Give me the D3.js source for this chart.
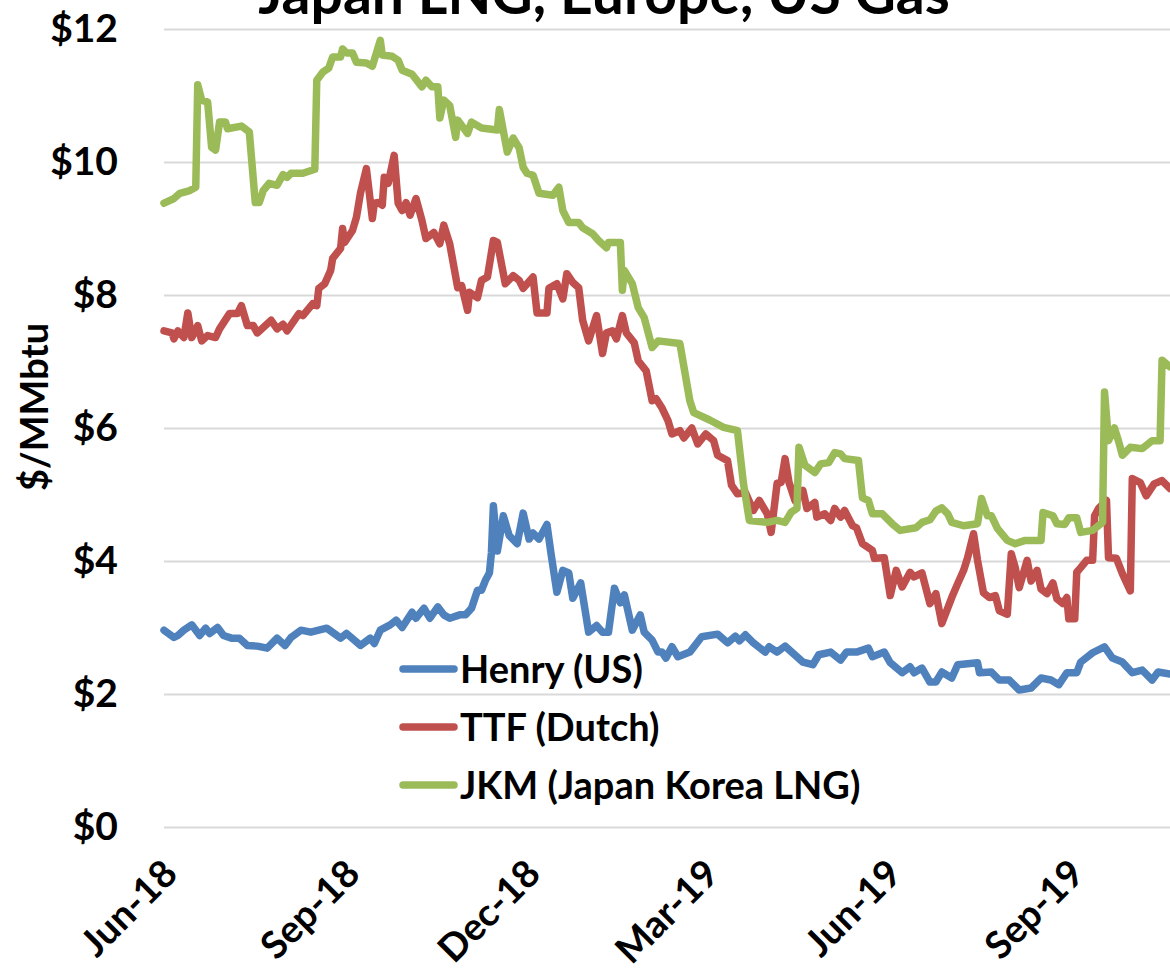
<!DOCTYPE html>
<html>
<head>
<meta charset="utf-8">
<script src="https://cdn.jsdelivr.net/npm/d3@7"></script>
<style>
body{margin:0;background:#fff;}
svg text{font-family:Lato,"Open Sans",sans-serif;font-weight:bold;fill:#000;}
</style>
</head>
<body>
<svg width="1170" height="970"></svg>
<script>
// daily prices, as [days after 1 Jun 2018, $/MMbtu]
const startDate = new Date(2018, 5, 1)
const endDate = new Date(2019, 9, 21)

const henry = [[0,2.96],[5,2.85],[7,2.88],[10,2.96],[14,3.04],[18,2.88],[21,2.99],[23,2.91],[27,3.0],[30,2.88],
  [34,2.84],[38,2.84],[42,2.73],[47,2.72],[52,2.69],[57,2.84],[61,2.73],[64,2.85],[69,2.96],[74,2.93],
  [82,2.99],[89,2.84],[92,2.91],[99,2.73],[104,2.84],[106,2.76],[109,2.96],[114,3.04],[117,3.11],[120,3.0],
  [125,3.23],[127,3.14],[131,3.29],[134,3.14],[138,3.31],[141,3.19],[144,3.14],[149,3.19],[152,3.19],[155,3.29],
  [158,3.56],[160,3.56],[162,3.71],[164,3.82],[165,4.12],[166,4.83],[168,4.15],[171,4.68],[174,4.38],[178,4.26],
  [181,4.72],[184,4.33],[186,4.42],[189,4.33],[193,4.55],[195,4.12],[198,3.53],[201,3.86],[204,3.82],[206,3.44],
  [210,3.67],[214,2.93],[218,3.03],[221,2.93],[224,2.93],[227,3.59],[230,3.37],[232,3.49],[236,2.96],[240,3.19],
  [242,2.93],[246,2.81],[249,2.63],[251,2.63],[253,2.54],[256,2.71],[259,2.56],[265,2.63],[271,2.86],[279,2.9],
  [284,2.77],[288,2.87],[290,2.8],[293,2.89],[297,2.77],[303,2.63],[305,2.71],[309,2.63],[313,2.72],[322,2.48],
  [327,2.44],[330,2.59],[336,2.63],[341,2.51],[344,2.63],[349,2.63],[355,2.69],[357,2.56],[363,2.63],[366,2.47],
  [372,2.32],[376,2.41],[378,2.32],[382,2.39],[386,2.18],[389,2.18],[392,2.33],[397,2.24],[400,2.44],[410,2.47],
  [411,2.32],[417,2.33],[421,2.21],[426,2.21],[431,2.06],[437,2.09],[442,2.24],[447,2.21],[451,2.14],[455,2.32],
  [460,2.32],[462,2.48],[468,2.62],[474,2.71],[478,2.54],[483,2.48],[488,2.32],[493,2.36],[498,2.21],[501,2.33],
  [507,2.3]]

const ttf = [[0,7.46],[4,7.43],[5,7.34],[7,7.46],[10,7.36],[12,7.73],[14,7.36],[17,7.54],[19,7.31],[22,7.39],
  [26,7.36],[28,7.49],[33,7.72],[37,7.72],[39,7.84],[42,7.54],[45,7.54],[47,7.43],[54,7.62],[57,7.49],
  [60,7.56],[62,7.46],[68,7.72],[70,7.69],[75,7.87],[77,7.84],[78,8.1],[81,8.17],[84,8.37],[85,8.55],
  [89,8.7],[90,9.0],[91,8.79],[95,8.97],[97,9.17],[99,9.53],[102,9.9],[105,9.15],[106,9.38],[108,9.39],
  [110,9.35],[111,9.77],[113,9.68],[116,10.1],[118,9.38],[120,9.27],[122,9.39],[124,9.2],[127,9.45],[130,9.12],
  [132,8.85],[136,8.94],[139,8.77],[141,9.05],[144,8.77],[148,8.11],[150,8.14],[153,7.77],[154,8.04],[158,7.96],
  [160,8.22],[163,8.27],[166,8.82],[168,8.79],[172,8.17],[176,8.29],[179,8.22],[181,8.1],[183,8.17],[186,8.27],
  [188,7.73],[193,7.73],[194,8.1],[198,8.17],[201,7.94],[203,8.32],[206,8.19],[209,8.11],[211,7.62],[214,7.31],
  [218,7.69],[221,7.12],[223,7.43],[226,7.46],[228,7.34],[231,7.69],[233,7.43],[237,7.28],[239,7.01],[243,6.86],
  [246,6.41],[248,6.44],[251,6.3],[254,6.11],[256,5.91],[260,5.96],[262,5.85],[266,6.0],[269,5.76],[273,5.91],
  [277,5.81],[279,5.59],[284,5.51],[286,5.14],[289,5.01],[293,5.03],[297,4.76],[300,4.91],[304,4.71],[306,4.43],
  [309,5.17],[311,5.18],[313,5.54],[315,5.18],[318,4.91],[322,5.06],[324,4.79],[328,4.88],[329,4.66],[333,4.71],
  [336,4.61],[338,4.79],[341,4.66],[343,4.76],[347,4.53],[349,4.5],[352,4.26],[357,4.16],[358,4.04],[363,4.05],
  [366,3.48],[369,3.86],[372,3.61],[376,3.83],[378,3.76],[382,3.82],[386,3.36],[389,3.51],[392,3.06],[397,3.45],
  [400,3.66],[403,3.86],[405,4.05],[408,4.41],[410,4.01],[413,3.52],[416,3.45],[419,3.48],[421,3.25],[425,3.2],
  [427,4.11],[429,3.9],[431,3.6],[435,4.01],[437,3.7],[440,3.86],[442,3.58],[445,3.51],[448,3.67],[450,3.43],
  [453,3.36],[455,3.45],[456,3.13],[459,3.13],[460,3.83],[462,3.9],[465,4.01],[468,4.01],[469,4.68],[471,4.79],
  [475,4.91],[476,4.05],[480,4.04],[483,3.81],[487,3.55],[488,5.24],[492,5.18],[495,4.98],[499,5.16],[503,5.21],
  [507,5.09]]

const jkm = [[0,9.38],[5,9.45],[8,9.53],[13,9.57],[16,9.62],[17,11.16],[19,10.93],[22,10.9],[24,10.22],[26,10.18],
  [28,10.6],[31,10.6],[32,10.5],[39,10.54],[43,10.45],[46,9.39],[48,9.39],[50,9.57],[53,9.68],[57,9.65],
  [60,9.81],[62,9.77],[64,9.83],[70,9.83],[76,9.89],[77,11.23],[80,11.35],[83,11.41],[85,11.58],[89,11.58],
  [90,11.7],[92,11.64],[95,11.64],[97,11.5],[102,11.49],[105,11.44],[109,11.83],[110,11.61],[115,11.59],[118,11.53],
  [120,11.38],[125,11.32],[130,11.13],[132,11.23],[135,11.13],[138,11.13],[139,10.66],[141,10.93],[144,10.85],[147,10.37],
  [148,10.63],[153,10.43],[155,10.6],[160,10.51],[168,10.48],[169,10.79],[173,10.15],[176,10.36],[179,10.21],[181,9.92],
  [183,9.83],[186,9.8],[189,9.53],[196,9.5],[199,9.62],[201,9.27],[204,9.09],[209,9.09],[211,9.01],[216,8.92],
  [219,8.82],[223,8.71],[224,8.79],[230,8.79],[231,8.07],[232,8.37],[236,8.17],[239,7.81],[242,7.66],[246,7.21],
  [249,7.31],[260,7.27],[265,6.41],[267,6.23],[275,6.12],[282,6.01],[289,5.96],[292,5.17],[295,4.61],[304,4.58],
  [309,4.61],[313,4.58],[316,4.73],[319,4.79],[320,5.71],[323,5.44],[328,5.33],[331,5.46],[335,5.48],[338,5.63],
  [341,5.61],[343,5.54],[350,5.51],[352,4.95],[355,4.91],[357,4.71],[362,4.71],[367,4.56],[371,4.46],[379,4.5],
  [382,4.58],[386,4.62],[389,4.75],[392,4.8],[395,4.71],[397,4.58],[403,4.53],[410,4.56],[412,4.94],[415,4.68],
  [417,4.68],[420,4.49],[425,4.31],[429,4.26],[434,4.31],[442,4.31],[443,4.73],[448,4.68],[450,4.56],[454,4.55],
  [456,4.65],[460,4.65],[462,4.43],[468,4.46],[473,4.58],[474,6.54],[476,5.81],[479,6.0],[481,5.81],[483,5.59],
  [487,5.71],[493,5.69],[498,5.81],[502,5.81],[503,7.02],[507,6.92]]

const seriesNames = ["Henry (US)", "TTF (Dutch)", "JKM (Japan Korea LNG)"]
const seriesColors = ["#4F81BD", "#C0504D", "#9BBB59"]
const yTicks = [0, 2, 4, 6, 8, 10, 12]
const xTicks = [new Date(2018,5,1), new Date(2018,8,1), new Date(2018,11,1), new Date(2019,2,1), new Date(2019,5,1), new Date(2019,8,1)]

const svg = d3.select("svg")
const margin = {left: 164, right: 1170, top: 29, bottom: 827}

const xs = d3.scaleTime().domain([startDate, endDate]).range([margin.left, margin.right])
const ys = d3.scaleLinear().domain([0, 12]).range([margin.bottom, margin.top])

// gridlines + y labels
const yAxis = svg.append("g")
  .attr("transform", "translate(" + margin.left + ",0)")
  .call(d3.axisLeft(ys).tickValues(yTicks).tickFormat(d => "$" + d).tickSize(-(margin.right - margin.left)).tickPadding(46))
yAxis.select(".domain").remove()
yAxis.selectAll("line").attr("stroke", "#d9d9d9").attr("stroke-width", 2)
yAxis.selectAll("text").style("font-size", "39px")

// x labels, rotated
const xAxis = svg.append("g")
  .attr("transform", "translate(0," + margin.bottom + ")")
  .call(d3.axisBottom(xs).tickValues(xTicks).tickFormat(d3.timeFormat("%b-%y")).tickSize(0))
xAxis.select(".domain").remove()
xAxis.selectAll("text")
  .attr("x", 0).attr("y", 0).attr("dy", 0)
  .attr("transform", "translate(15,49) rotate(-45)")
  .style("text-anchor", "end")
  .style("font-size", "38px")

const line = d3.line()
  .x(d => xs(d3.timeDay.offset(startDate, d[0])))
  .y(d => ys(d[1]))

const allSeries = [henry, ttf, jkm]
svg.append("g").selectAll("path")
  .data(allSeries)
  .enter()
  .append("path")
  .attr("d", line)
  .attr("fill", "none")
  .attr("stroke", (d, i) => seriesColors[i])
  .attr("stroke-width", 7.5)
  .attr("stroke-linejoin", "round")
  .attr("stroke-linecap", "round")

// legend
const legend = svg.append("g").selectAll("g")
  .data(seriesNames)
  .enter()
  .append("g")
  .attr("transform", (d, i) => "translate(400," + (669 + i * 58) + ")")
legend.append("line")
  .attr("x1", 3).attr("x2", 54)
  .attr("stroke", (d, i) => seriesColors[i])
  .attr("stroke-width", 7.5)
  .attr("stroke-linecap", "round")
legend.append("text")
  .attr("x", 60).attr("dy", "0.36em")
  .style("font-size", "38px")
  .text(d => d)

// title, cut off at top like the original
svg.append("text")
  .attr("x", 604).attr("y", 14)
  .style("text-anchor", "middle")
  .style("font-size", "57px")
  .text("Japan LNG, Europe, US Gas")

svg.append("text")
  .attr("transform", "translate(48,407) rotate(-90)")
  .style("text-anchor", "middle")
  .style("font-size", "38px")
  .text("$/MMbtu")
</script>
</body>
</html>
